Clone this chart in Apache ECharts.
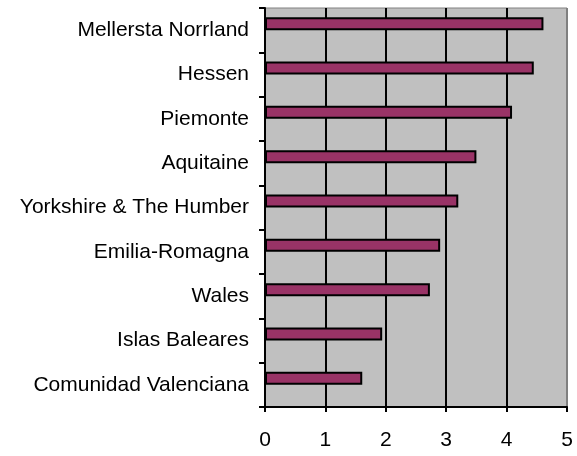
<!DOCTYPE html>
<html>
<head>
<meta charset="utf-8">
<script src="https://cdn.jsdelivr.net/npm/echarts@6/dist/echarts.min.js"></script>
<style>
  html, body { margin: 0; padding: 0; background: #fff; }
  #chart { width: 577px; height: 456px; }
</style>
</head>
<body>
<div id="chart"></div>
<script>
// bottom to top, as the category axis runs
var regions = ['Comunidad Valenciana', 'Islas Baleares', 'Wales', 'Emilia-Romagna',
  'Yorkshire & The Humber', 'Aquitaine', 'Piemonte', 'Hessen', 'Mellersta Norrland']
var values = [1.61, 1.94, 2.73, 2.90, 3.20, 3.50, 4.09, 4.45, 4.61]
var xTicks = [0, 1, 2, 3, 4, 5]

var chart = echarts.init(document.getElementById('chart'))
chart.setOption({
    animation: false,
    textStyle: { fontFamily: 'Liberation Sans, Arial, sans-serif' },
    grid: {
        show: true,
        left: 265,
        right: 10,
        top: 8,
        bottom: 49,
        backgroundColor: '#c0c0c0',
        borderColor: '#808080',
        borderWidth: 1
    },
    xAxis: {
        type: 'value',
        min: xTicks[0],
        max: xTicks[xTicks.length - 1],
        interval: 1,
        axisLine: { show: true, lineStyle: { color: '#000', width: 2 } },
        axisTick: { show: true, length: 5, lineStyle: { color: '#000', width: 2 } },
        axisLabel: { color: '#000', fontSize: 21, margin: 23 },
        splitLine: {
            show: true,
            lineStyle: { color: ['#000', '#000', '#000', '#000', '#000', '#808080'], width: 2 }
        }
    },
    yAxis: {
        type: 'category',
        data: regions,
        axisLine: { show: true, lineStyle: { color: '#000', width: 2 } },
        axisTick: { show: true, length: 6, lineStyle: { color: '#000', width: 2 } },
        axisLabel: { color: '#000', fontSize: 21, margin: 16 },
        splitLine: { show: false }
    },
    series: [
        {
            type: 'bar',
            data: values,
            barWidth: 13,
            barGap: '0%',
            itemStyle: { color: '#993366', borderColor: '#000', borderWidth: 2 }
        },
        {
            type: 'bar',
            data: [],
            barWidth: 13
        }
    ]
})
</script>
</body>
</html>
